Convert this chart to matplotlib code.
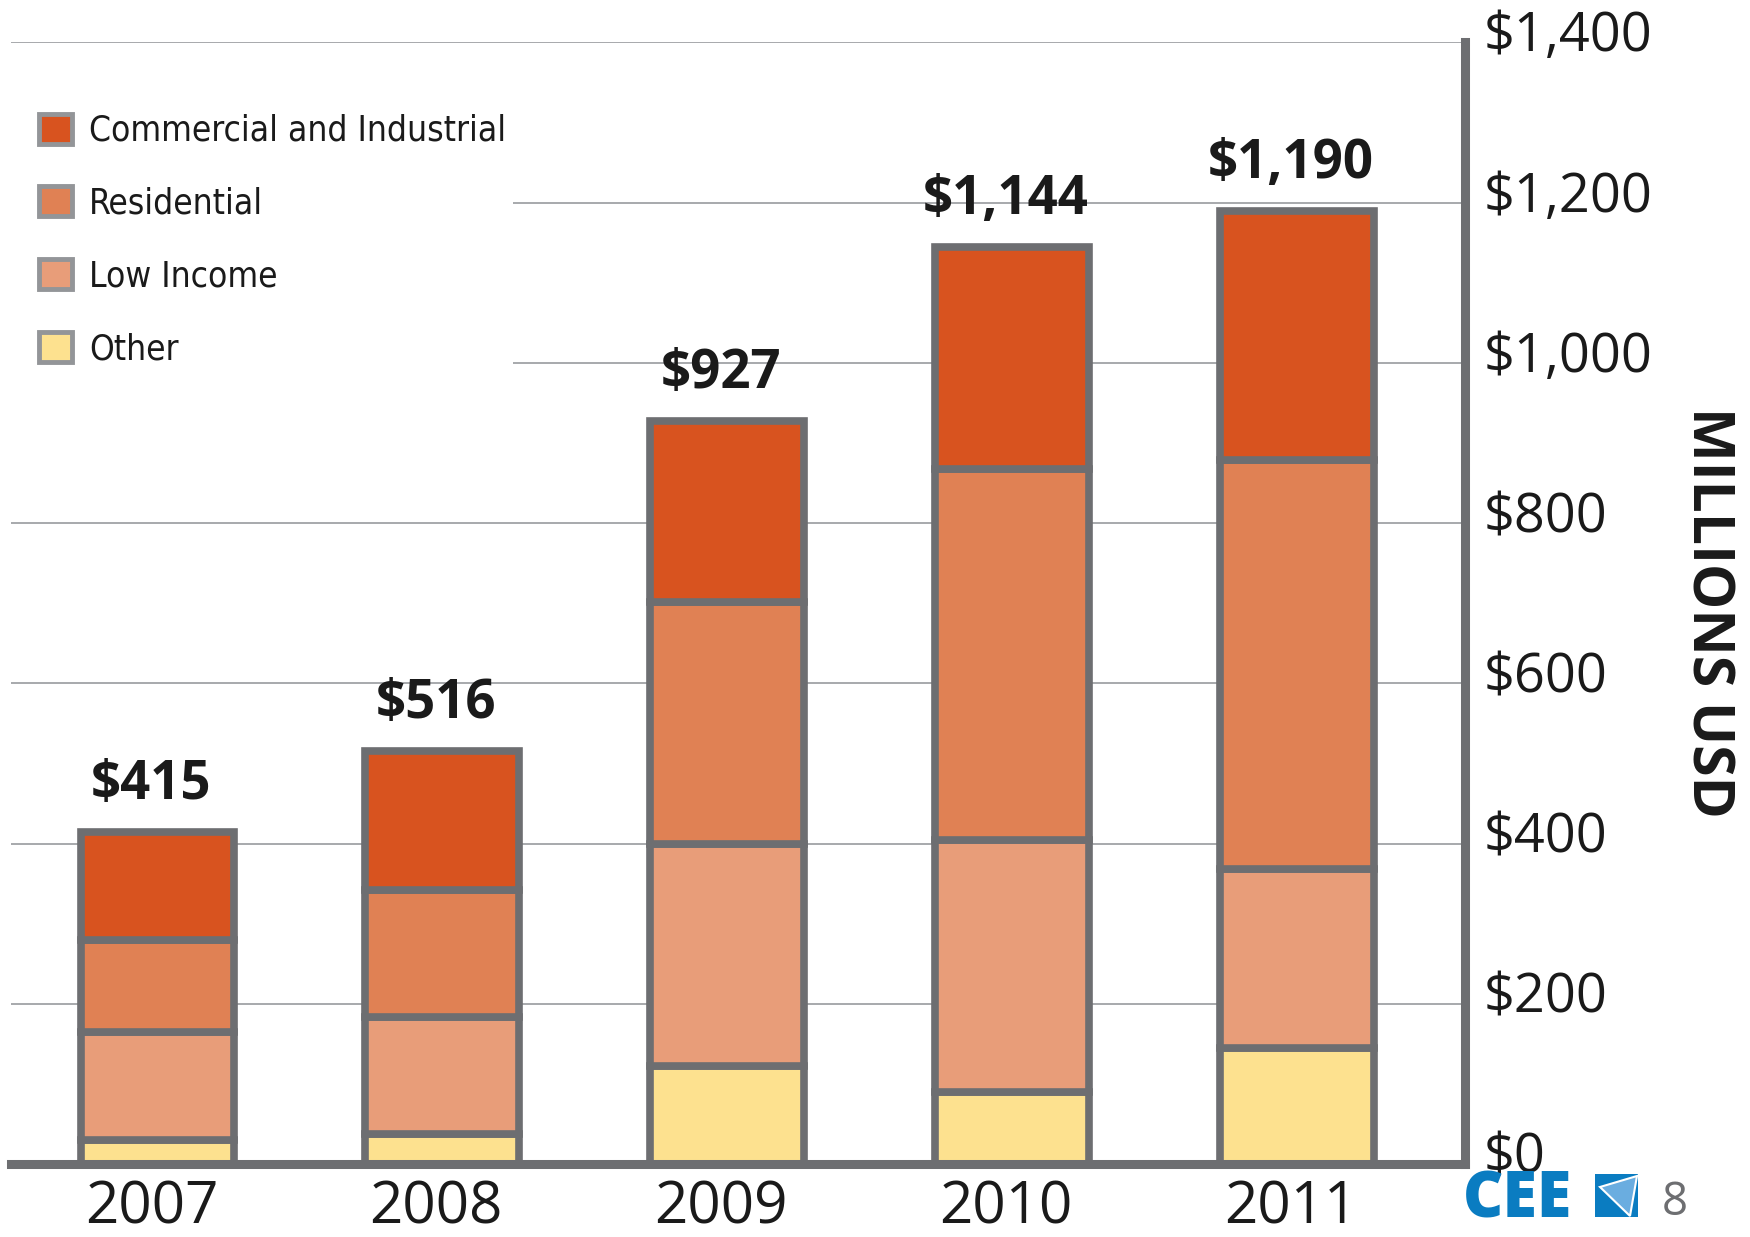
import matplotlib
matplotlib.use('Agg')
import matplotlib.pyplot as plt
import matplotlib.transforms as mtransforms
from matplotlib.patches import Patch, Polygon, Rectangle
from matplotlib import font_manager as fm
import numpy as np

# ---------------- data ----------------
years = ['2007', '2008', '2009', '2010', '2011']
other = [30, 37, 122, 90, 145]
low_income = [135, 146, 278, 315, 223]
residential = [115, 159, 301, 462, 511]
commercial = [135, 174, 226, 277, 311]
totals = [415, 516, 927, 1144, 1190]
series_names = ['Commercial and Industrial', 'Residential', 'Low Income', 'Other']
y_ticks = [0, 200, 400, 600, 800, 1000, 1200, 1400]
y_tick_labels = ['$0', '$200', '$400', '$600', '$800', '$1,000', '$1,200', '$1,400']
y_title = 'MILLIONS USD'

# ---------------- style ----------------
C_CI = '#d8531f'
C_RES = '#e08154'
C_LOW = '#e89d79'
C_OTH = '#fde18f'
EDGE = '#6d6e71'
GRID = '#a7a9ac'
TXT = '#1a1a1a'
BLUE = '#0a7cc1'
MAIN = ['Open Sans', 'DejaVu Sans']

W, H = 1750, 1237
fig = plt.figure(figsize=(W / 100, H / 100), dpi=100)
renderer = fig.canvas.get_renderer()


def fx(px):
    return px / W


def fy(py):
    return 1 - py / H


def px_off(dx, dy):
    return mtransforms.ScaledTranslation(dx / 100, dy / 100, fig.dpi_scale_trans)


# ---- pick a condensed font for the legend if one is installed ----
def find_condensed():
    best = None
    for f in fm.fontManager.ttflist:
        n = f.name
        st = f.stretch
        cond = ('Narrow' in n or 'Condensed' in n or 'Cond' in n or
                st in ('condensed', 'semi-condensed', 'extra-condensed', 'ultra-condensed') or
                (isinstance(st, (int, float)) and st < 500))
        if not cond or f.style != 'normal':
            continue
        if 'Mono' in n or 'Serif' in n or 'CJK' in n:
            continue
        w = f.weight if isinstance(f.weight, (int, float)) else 400
        score = abs(w - 400)
        if best is None or score < best[0]:
            best = (score, f.fname)
    return best[1] if best else None


cond_path = find_condensed()
if cond_path:
    leg_prop = fm.FontProperties(fname=cond_path, size=30)
else:
    leg_prop = fm.FontProperties(family=MAIN, size=30)
# scale legend font so the longest label spans ~416 px like the reference
tmp = fig.text(0, 0, series_names[0], fontproperties=leg_prop)
bb = tmp.get_window_extent(renderer)
tmp.remove()
LEG_FS = min(46.0, 30 * 416.0 / bb.width)
leg_prop.set_size(LEG_FS)
fs_px = LEG_FS * 100 / 72.0
tmp = fig.text(0, 0, series_names[0], fontproperties=leg_prop)
text_h = tmp.get_window_extent(renderer).height
tmp.remove()
handle_px = 33.0
hsize = handle_px / fs_px
row_h = max(text_h, handle_px)
lab_sp = max(0.05, (72.7 - row_h) / fs_px)

ax = fig.add_axes([fx(11), fy(1164), fx(1465) - fx(11), fy(42.4) - fy(1164)])
x = np.arange(len(years))
bottom = np.zeros(len(years))
for vals, col in [(other, C_OTH), (low_income, C_LOW), (residential, C_RES), (commercial, C_CI)]:
    ax.bar(x, vals, width=0.54, bottom=bottom, color=col, edgecolor=EDGE,
           linewidth=5.5, zorder=3)
    bottom += np.array(vals)

ax.set_xlim(-0.514, 4.590)
ax.set_ylim(0, 1400)
ax.set_yticks(y_ticks)
ax.set_yticklabels([])
ax.set_xticks(x)
ax.set_xticklabels([])
ax.tick_params(length=0)
ax.set_axisbelow(True)
ax.yaxis.grid(True, color=GRID, linewidth=1.4)
ax.xaxis.grid(False)
for s in ['top', 'left']:
    ax.spines[s].set_visible(False)
for s in ['bottom', 'right']:
    ax.spines[s].set_color(EDGE)
    ax.spines[s].set_linewidth(6.5)
    ax.spines[s].set_capstyle('projecting')
    ax.spines[s].set_zorder(4)

# y tick labels (right side)
for v, lab in zip(y_ticks, y_tick_labels):
    ax.text(1.0, v, lab, transform=ax.get_yaxis_transform() + px_off(19, -9),
            ha='left', va='baseline', fontsize=39, color=TXT, family=MAIN,
            clip_on=False)

# year labels
for xi, yr in zip(x, years):
    ax.text(xi, 0, yr, transform=ax.get_xaxis_transform() + px_off(-6, -59),
            ha='center', va='baseline', fontsize=42, color=TXT, family=MAIN,
            clip_on=False)

# totals
for xi, t in zip(x, totals):
    ax.text(xi, t, f'${t:,}', transform=ax.transData + px_off(-6, 33),
            ha='center', va='baseline', fontsize=38, fontweight='bold',
            color=TXT, family=MAIN, clip_on=False)

# legend background (covers gridlines)
ax.add_patch(Rectangle((fx(0), fy(410)), fx(513), fy(95) - fy(410),
                       transform=fig.transFigure, facecolor='white',
                       edgecolor='none', zorder=1))
handles = [Patch(facecolor=c, edgecolor='#939598', linewidth=3.5)
           for c in [C_CI, C_RES, C_LOW, C_OTH]]
leg_top = 130.6 - row_h / 2.0
leg = ax.legend(handles, series_names, loc='upper left',
                bbox_to_anchor=(fx(39), fy(leg_top)), bbox_transform=fig.transFigure,
                frameon=False, prop=leg_prop,
                handlelength=hsize, handleheight=hsize,
                handletextpad=max(0.1, 17.0 / fs_px),
                labelspacing=lab_sp, borderpad=0, borderaxespad=0)
for t in leg.get_texts():
    t.set_color(TXT)

# axis title
fig.text(fx(1707), fy(612), y_title, rotation=-90, ha='center', va='center',
         fontsize=41, fontweight='bold', color=TXT, family=MAIN)

# logo + page number
fig.text(fx(1463), fy(1218), 'CEE', ha='left', va='baseline', fontsize=45,
         fontweight='heavy', color=BLUE, family=MAIN)
fig.patches.append(Rectangle((fx(1595), fy(1217)), fx(43), fy(1174) - fy(1217),
                             transform=fig.transFigure, facecolor=BLUE,
                             edgecolor='none'))
fig.patches.append(Polygon([(fx(1600), fy(1187)), (fx(1637), fy(1176)), (fx(1630), fy(1216))],
                           closed=True, transform=fig.transFigure,
                           facecolor='#6aade0', edgecolor='white', linewidth=1.5))
fig.text(fx(1662), fy(1215), '8', ha='left', va='baseline', fontsize=33,
         color=EDGE, family=MAIN)

fig.savefig('out.png', dpi=100, facecolor='white')
